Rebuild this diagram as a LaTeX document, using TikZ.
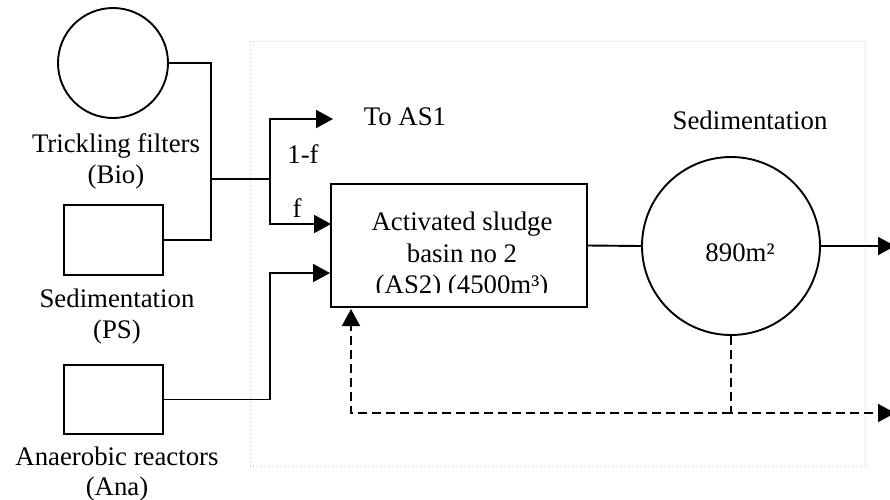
\documentclass[tikz,border=0pt]{standalone}
\usepackage{fontspec}
\setmainfont{Liberation Serif}
\usetikzlibrary{arrows.meta}
\begin{document}
\begin{tikzpicture}[x=1pt,y=-1pt,
  line width=1.9pt,
  every node/.style={font=\fontsize{26.8}{31}\selectfont},
  unit/.style={draw, line width=1.9pt, inner sep=0pt},
  tank/.style={unit, circle},
  basin/.style={unit, rectangle},
  lbl/.style={anchor=base, inner sep=0pt, align=center},
  arr/.style={-{Triangle[length=17pt,width=18pt]}},
  ret/.style={arr, dash pattern=on 9pt off 5pt},
  frame/.style={draw=gray!45, line width=1pt, dash pattern=on 1.2pt off 2.8pt}]
\useasboundingbox (0,0) rectangle (890,499);

% plant boundary
\draw[frame] (250,41) rectangle (865,466);

% upstream units
\node[tank, minimum size=110pt] (bio) at (113,63) {};
\node[basin, minimum width=99pt, minimum height=70pt] (ps) at (113.5,240) {};
\node[basin, minimum width=99pt, minimum height=69pt] (ana) at (113.5,399.5) {};

\node[lbl] (biolbl) at (116,152) {Trickling filters};
\node[lbl] (biolbl2) at (116,183) {(Bio)};
\node[lbl] (pslbl) at (117,307) {Sedimentation};
\node[lbl] (pslbl2) at (117,338) {(PS)};
\node[lbl] (analbl) at (117,465) {Anaerobic reactors};
\node[lbl] (analbl2) at (117,495) {(Ana)};

% activated sludge basin and clarifier
\node[basin, minimum width=256pt, minimum height=123pt] (as2) at (459,245.5) {};
\begin{scope}
  \clip (331,184) rectangle (587,292);
  \node[lbl] (as2a) at (462,230) {Activated sludge};
  \node[lbl] (as2b) at (462,262) {basin no 2};
  \node[lbl] (as2c) at (462,293) {(AS2) (4500m³)};
\end{scope}

\node[tank, minimum size=178pt] (sed) at (731,246) {};
\node[lbl] (sedlbl) at (750,129) {Sedimentation};
\node[lbl] (sedarea) at (740,261) {890m²};

\node[lbl] (toas1) at (405,125) {To AS1};
\node[lbl] (flbl1) at (303,163) {1-f};
\node[lbl] (flbl2) at (297,217) {f};

% junctions and free ends
\coordinate (j1) at (211,179);
\coordinate (split) at (270,179);
\coordinate (outas1) at (333,119);
\coordinate (inf) at (331,224);
\coordinate (kana) at (270,273);
\coordinate (out1) at (895,246);
\coordinate (out2) at (895,413);
\coordinate (rtop) at (351,309);

% influent lines
\draw (bio.east) -| (j1) |- (ps.east);
\draw (j1) -- (split);
\draw[arr] (split) |- (outas1);
\draw[arr] (split) |- (inf);
\draw[arr] (ana.east) -| (kana) -- (as2.west |- kana);

% basin to clarifier and effluent
\draw (as2.east) -- (sed.west);
\draw[arr] (sed.east) -- (out1);

% sludge return and excess sludge
\draw[ret] (sed.south) |- (out2);
\draw[ret] (sed.south |- out2) -| (rtop);
\end{tikzpicture}
\end{document}
